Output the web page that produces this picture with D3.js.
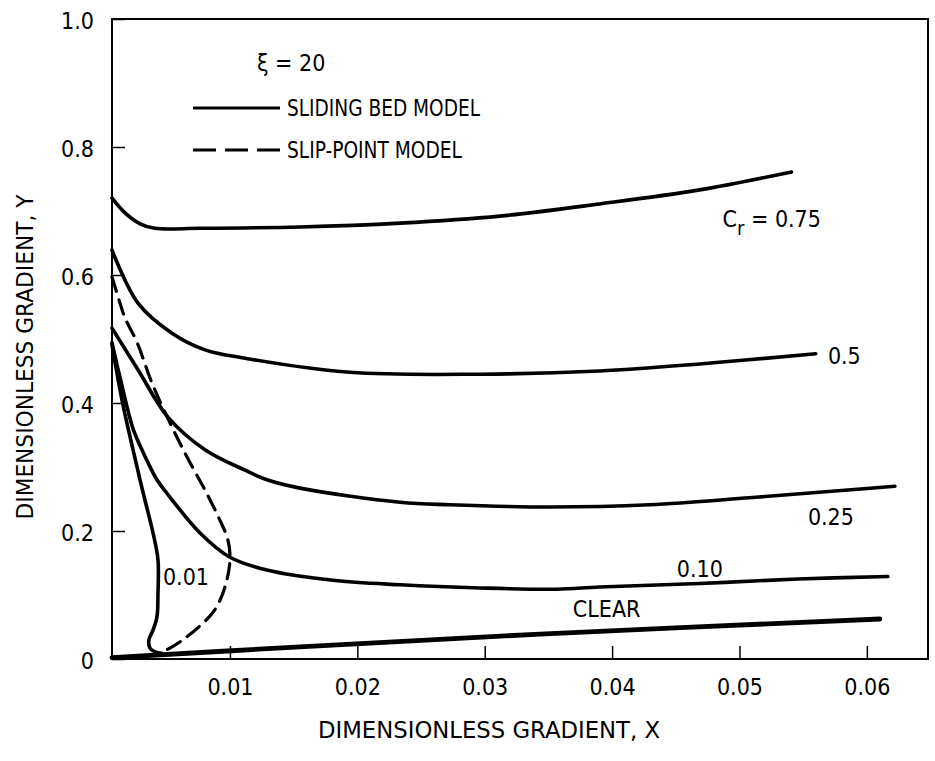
<!DOCTYPE html>
<html>
<head>
	<meta charset="UTF-8">
	<title>dimensionless gradient</title>
	<style>
html, body {
	margin:0;padding:0;background:#fff;
}
text {
	fill: #000;
	font-family: 'DejaVu Sans Condensed', 'DejaVu Sans', sans-serif;
	font-stretch: condensed;
	font-size: 23px;
}
.curve {fill: none; stroke: #000; stroke-linecap: round; stroke-linejoin: round;}
	</style>
	<script src="https://cdnjs.cloudflare.com/ajax/libs/d3/7.8.5/d3.min.js"></script>
</head>
<body>
<script>
// curves, [X, Y]
const cr075 = [[0.00074,0.720],[0.00176,0.697],[0.00294,0.680],[0.00411,0.673],[0.00765,0.673],[0.01549,0.675],[0.02335,0.681],[0.03119,0.692],[0.03901,0.711],[0.04686,0.733],[0.05408,0.761]];
const cr050 = [[0.00074,0.639],[0.00278,0.556],[0.00545,0.509],[0.00804,0.483],[0.01118,0.470],[0.01942,0.448],[0.02962,0.445],[0.03901,0.450],[0.04686,0.461],[0.05599,0.477]];
const cr025 = [[0.00074,0.517],[0.00278,0.452],[0.00513,0.378],[0.00804,0.327],[0.01118,0.295],[0.0129,0.280],[0.01549,0.267],[0.02335,0.245],[0.02727,0.241],[0.03512,0.2375],[0.04294,0.241],[0.05078,0.252],[0.05749,0.2625],[0.0622,0.270]];
const cr010 = [[0.00074,0.494],[0.00137,0.44],[0.00239,0.36],[0.00309,0.327],[0.00427,0.280],[0.00505,0.259],[0.00765,0.197],[0.01,0.159],[0.0129,0.139],[0.01809,0.123],[0.02335,0.116],[0.02962,0.111],[0.03567,0.109],[0.03901,0.1125],[0.04686,0.118],[0.05458,0.125],[0.06165,0.129]];
const cr001 = [[0.00074,0.491],[0.00152,0.405],[0.00239,0.327],[0.00294,0.280],[0.00333,0.248],[0.00396,0.197],[0.00435,0.155],[0.00435,0.103],[0.00427,0.066],[0.00396,0.045],[0.00364,0.030],[0.00372,0.017],[0.00411,0.011],[0.00466,0.009]];
const clear = [[0.00074,0.002],[0.01549,0.019],[0.03434,0.039],[0.06102,0.0625]];
const slipPoint = [[0.00074,0.597],[0.00137,0.556],[0.00176,0.533],[0.0027,0.495],[0.00388,0.431],[0.00529,0.369],[0.00662,0.316],[0.00804,0.264],[0.00921,0.217],[0.00984,0.186],[0.01,0.155],[0.00961,0.1125],[0.00882,0.077],[0.00788,0.056],[0.00631,0.030],[0.00529,0.017],[0.00466,0.011]];

const xTicks = [0.01, 0.02, 0.03, 0.04, 0.05, 0.06];
const xTickLabels = ['0.01', '0.02', '0.03', '0.04', '0.05', '0.06'];
const yTicks = [0, 0.2, 0.4, 0.6, 0.8, 1.0];
const yTickLabels = ['0', '0.2', '0.4', '0.6', '0.8', '1.0'];

// curve labels, anchored at [X, Y] of the text start
const curveLabels = [
	{text: '0.5', at: [0.05694, 0.461]},
	{text: '0.25', at: [0.05537, 0.209]},
	{text: '0.10', at: [0.04508, 0.128]},
	{text: 'CLEAR', at: [0.03692, 0.066]},
	{text: '0.01', at: [0.00474, 0.116]}
];

const W = 935, H = 761;
const frame = {left: 112, right: 928, top: 19, bottom: 659};

const svg = d3.select('body').append('svg').attr('width', W).attr('height', H);

const x = d3.scaleLinear().domain([0.00074, 0.0648]).range([frame.left, frame.right]);
const y = d3.scaleLinear().domain([0, 1]).range([frame.bottom, frame.top]);

// frame
svg.append('rect')
	.attr('x', frame.left).attr('y', frame.top)
	.attr('width', frame.right - frame.left).attr('height', frame.bottom - frame.top)
	.attr('fill', 'none').attr('stroke', '#000').attr('stroke-width', 2);

// inward ticks
const xAxis = svg.append('g').attr('transform', `translate(0,${frame.bottom})`)
	.call(d3.axisBottom(x).tickValues(xTicks).tickSizeInner(-13).tickSizeOuter(0).tickFormat((d, i) => xTickLabels[i]));
xAxis.select('.domain').remove();
xAxis.selectAll('line').attr('stroke-width', 1.5);
xAxis.selectAll('text').attr('y', 36).attr('dy', 0).attr('font-size', 23).attr('font-family', null);

const yAxis = svg.append('g').attr('transform', `translate(${frame.left},0)`)
	.call(d3.axisLeft(y).tickValues(yTicks).tickSizeInner(-13).tickSizeOuter(0).tickFormat((d, i) => yTickLabels[i]));
yAxis.select('.domain').remove();
yAxis.selectAll('line').attr('stroke-width', 1.5);
yAxis.selectAll('text').attr('x', -18).attr('dy', 9).attr('font-size', 23).attr('font-family', null);

// axis titles
svg.append('text')
	.attr('x', 489).attr('y', 738)
	.attr('text-anchor', 'middle')
	.attr('textLength', 342).attr('lengthAdjust', 'spacingAndGlyphs')
	.text('DIMENSIONLESS GRADIENT, X');
svg.append('text')
	.attr('transform', 'translate(33,357) rotate(-90)')
	.attr('text-anchor', 'middle')
	.attr('textLength', 325).attr('lengthAdjust', 'spacingAndGlyphs')
	.text('DIMENSIONLESS GRADIENT, Y');

// curves
const line = d3.line().x(d => x(d[0])).y(d => y(d[1])).curve(d3.curveCatmullRom.alpha(0.5));

const solid = [cr075, cr050, cr025, cr010, cr001];
svg.append('g').selectAll('path').data(solid).enter().append('path')
	.attr('class', 'curve')
	.attr('d', line)
	.attr('stroke-width', 3.6);

svg.append('path').datum(clear)
	.attr('class', 'curve')
	.attr('d', line)
	.attr('stroke-width', 4.8);

svg.append('path').datum(slipPoint)
	.attr('class', 'curve')
	.attr('d', line)
	.attr('stroke-width', 3.2)
	.attr('stroke-linecap', 'butt')
	.attr('stroke-dasharray', '15,9');

// curve labels
svg.append('g').selectAll('text').data(curveLabels).enter().append('text')
	.attr('x', d => x(d.at[0])).attr('y', d => y(d.at[1]))
	.text(d => d.text);

const cr = svg.append('text').attr('x', x(0.04867)).attr('y', y(0.675));
cr.append('tspan').text('C');
cr.append('tspan').attr('dy', 8).attr('font-size', 20).text('r');
cr.append('tspan').attr('dy', -8).text(' = 0.75');

// legend
const lg = svg.append('g');
lg.append('text').attr('x', 257).attr('y', 71).text('ξ = 20');
lg.append('line').attr('x1', 193).attr('x2', 280).attr('y1', 108).attr('y2', 108)
	.attr('stroke', '#000').attr('stroke-width', 3);
lg.append('text').attr('x', 287).attr('y', 116)
	.attr('textLength', 193).attr('lengthAdjust', 'spacingAndGlyphs')
	.text('SLIDING BED MODEL');
lg.append('line').attr('x1', 193).attr('x2', 280).attr('y1', 150).attr('y2', 150)
	.attr('stroke', '#000').attr('stroke-width', 3).attr('stroke-dasharray', '23,9');
lg.append('text').attr('x', 287).attr('y', 158)
	.attr('textLength', 175).attr('lengthAdjust', 'spacingAndGlyphs')
	.text('SLIP-POINT MODEL');
</script>
</body>
</html>
